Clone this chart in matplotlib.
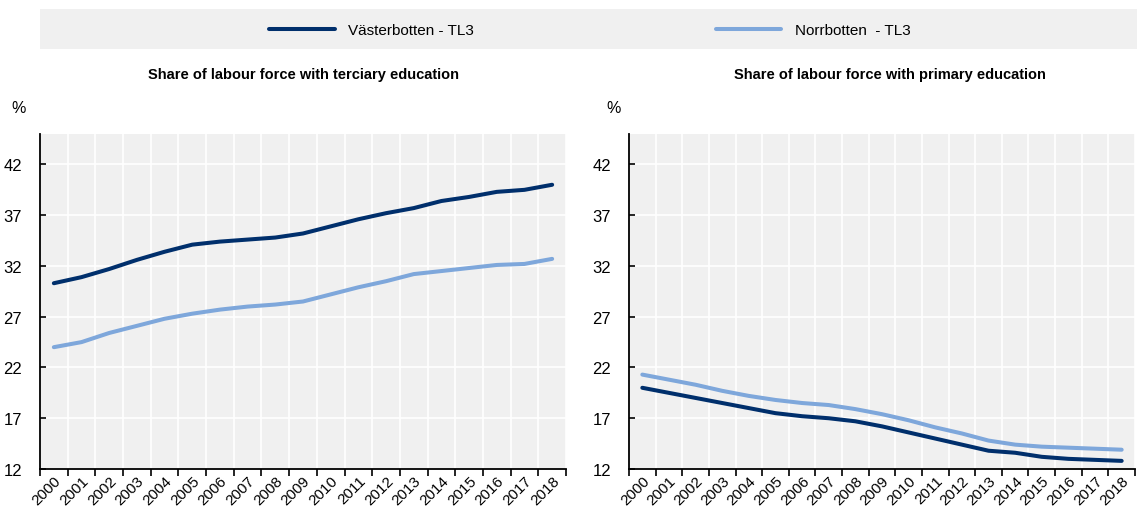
import numpy as np
import matplotlib.pyplot as plt
from matplotlib.patches import Rectangle

plt.rcParams['font.family'] = ['Liberation Sans', 'DejaVu Sans']

years = [str(y) for y in range(2000, 2019)]

# share of labour force with tertiary education (%)
vast_tert = [30.3, 30.9, 31.7, 32.6, 33.4, 34.1, 34.4, 34.6, 34.8, 35.2,
             35.9, 36.6, 37.2, 37.7, 38.4, 38.8, 39.3, 39.5, 40.0]
norr_tert = [24.0, 24.5, 25.4, 26.1, 26.8, 27.3, 27.7, 28.0, 28.2, 28.5,
             29.2, 29.9, 30.5, 31.2, 31.5, 31.8, 32.1, 32.2, 32.7]

# share of labour force with primary education (%)
vast_prim = [20.0, 19.5, 19.0, 18.5, 18.0, 17.5, 17.2, 17.0, 16.7, 16.2,
             15.6, 15.0, 14.4, 13.8, 13.6, 13.2, 13.0, 12.9, 12.8]
norr_prim = [21.3, 20.8, 20.3, 19.7, 19.2, 18.8, 18.5, 18.3, 17.9, 17.4,
             16.8, 16.1, 15.5, 14.8, 14.4, 14.2, 14.1, 14.0, 13.9]

dark = '#002f6c'
light = '#7ea7db'
bg = '#f0f0f0'

fig = plt.figure(figsize=(11.37, 5.10), dpi=100)

# legend strip
fig.patches.append(Rectangle((40 / 1137, 1 - 50 / 510), 1 - 40 / 1137, 40 / 510,
                             transform=fig.transFigure, facecolor=bg,
                             edgecolor='none', zorder=0))

ax1 = fig.add_axes([40 / 1137, 1 - 470 / 510, 526 / 1137, 335 / 510])
ax2 = fig.add_axes([629 / 1137, 1 - 470 / 510, 506 / 1137, 335 / 510])

panels = [(ax1, vast_tert, norr_tert, 'Share of labour force with terciary education', 303),
          (ax2, vast_prim, norr_prim, 'Share of labour force with primary education', 890)]

x = np.arange(len(years))
for ax, v, n, title, tx in panels:
    ax.set_facecolor(bg)
    l1, = ax.plot(x, v, color=dark, lw=2.9, solid_capstyle='round', label='Västerbotten - TL3', zorder=3)
    l2, = ax.plot(x, n, color=light, lw=2.9, solid_capstyle='round', label='Norrbotten  - TL3', zorder=3)
    ax.set_xlim(-0.5, len(years) - 0.5)
    ax.set_ylim(12, 45)
    ax.set_yticks([12, 17, 22, 27, 32, 37, 42])
    ax.set_xticks(x)
    ax.set_xticklabels(years, rotation=45, ha='right', rotation_mode='anchor', fontsize=11)
    ax.set_xticks(np.arange(-0.5, len(years)), minor=True)
    ax.tick_params(axis='x', which='major', length=0, pad=3)
    ax.tick_params(axis='x', which='minor', length=5, width=1.2, direction='out')
    ax.tick_params(axis='y', length=4, width=1.2, direction='in', labelsize=12, pad=13)
    ax.grid(which='minor', axis='x', color='white', lw=1.2)
    ax.grid(which='major', axis='y', color='white', lw=1.2)
    ax.set_axisbelow(True)
    for s in ['top', 'right']:
        ax.spines[s].set_visible(False)
    for s in ['left', 'bottom']:
        ax.spines[s].set_linewidth(1.3)
    fig.text(tx / 1137, 1 - 75 / 510, title, ha='center', va='center',
             fontsize=10.5, fontweight='bold')
    ax.text(-0.04 if ax is ax1 else -0.03, 1.08, '%', transform=ax.transAxes,
            ha='center', va='center', fontsize=11.5)

fig.legend(handles=[l1, l2], loc='center', bbox_to_anchor=(590 / 1137, 1 - 31 / 510),
           ncol=2, frameon=False, fontsize=11, handlelength=4.3,
           columnspacing=15.8, handletextpad=0.9)

fig.savefig('out.png', dpi=100)
